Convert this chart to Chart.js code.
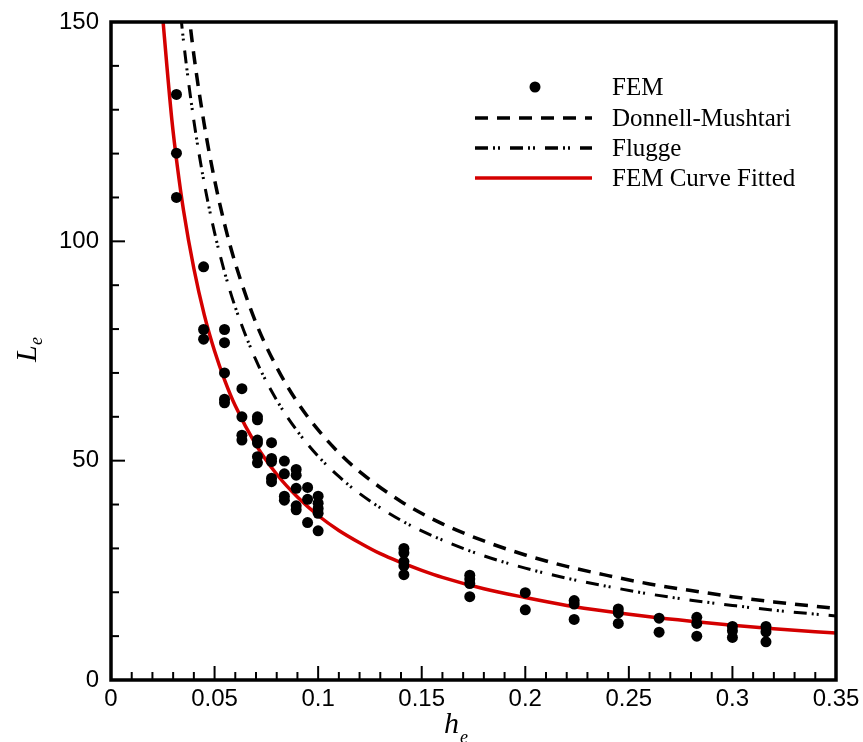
<!DOCTYPE html>
<html>
<head>
<meta charset="utf-8">
<script src="https://cdn.jsdelivr.net/npm/chart.js@4.4.1/dist/chart.umd.min.js"></script>
<style>
  body { margin: 0; background: #fff; }
  #wrap { width: 863px; height: 742px; }
</style>
</head>
<body>
<div id="wrap"><canvas id="chart" width="863" height="742"></canvas></div>
<script>
// FEM results (h_e, L_e)
var femH = [
  0.0316, 0.0316, 0.0316,
  0.0447, 0.0447, 0.0447,
  0.0548, 0.0548, 0.0548, 0.0548, 0.0548,
  0.0632, 0.0632, 0.0632, 0.0632,
  0.0707, 0.0707, 0.0707, 0.0707, 0.0707, 0.0707,
  0.0775, 0.0775, 0.0775, 0.0775, 0.0775,
  0.0837, 0.0837, 0.0837, 0.0837,
  0.0894, 0.0894, 0.0894, 0.0894, 0.0894,
  0.0949, 0.0949, 0.0949,
  0.1, 0.1, 0.1, 0.1, 0.1,
  0.1414, 0.1414, 0.1414, 0.1414, 0.1414,
  0.1732, 0.1732, 0.1732, 0.1732,
  0.2, 0.2,
  0.2236, 0.2236, 0.2236,
  0.2449, 0.2449, 0.2449,
  0.2646, 0.2646,
  0.2828, 0.2828, 0.2828,
  0.3, 0.3, 0.3,
  0.3162, 0.3162, 0.3162
];
var femL = [
  133.5, 120.1, 110,
  94.2, 79.9, 77.7,
  79.9, 76.9, 70.0, 64.0, 63.2,
  66.4, 60.0, 55.8, 54.7,
  60.0, 59.3, 54.7, 54.0, 50.9, 49.5,
  54.1, 50.5, 49.8, 46.0, 45.2,
  49.9, 47.0, 41.9, 41.0,
  48.0, 46.7, 43.7, 39.7, 38.8,
  43.9, 41.2, 35.9,
  41.9, 40.3, 39.1, 38.0, 34.0,
  30.0, 29.0, 27.0, 26.0, 24.0,
  23.9, 23.0, 22.0, 19.0,
  19.9, 16.0,
  18.1, 17.3, 13.8,
  16.2, 15.3, 12.9,
  14.1, 10.9,
  14.3, 12.9, 10.0,
  12.2, 11.2, 9.7,
  12.2, 11.0, 8.7
];

// Donnell-Mushtari theory
var dmH = [0.036, 0.04, 0.045, 0.05, 0.055, 0.06, 0.07, 0.08, 0.09, 0.1, 0.11, 0.12, 0.14, 0.16, 0.18, 0.2, 0.22, 0.24, 0.26, 0.28, 0.3, 0.32, 0.35];
var dmL = [158.3, 142.5, 126.7, 114.0, 103.6, 95.0, 81.4, 71.3, 63.3, 57.0, 51.8, 47.5, 40.7, 35.6, 31.7, 28.5, 25.9, 23.8, 21.9, 20.4, 19.0, 17.8, 16.3];

// Flugge theory
var flH = [0.032, 0.035, 0.04, 0.045, 0.05, 0.055, 0.06, 0.07, 0.08, 0.09, 0.1, 0.11, 0.12, 0.14, 0.16, 0.18, 0.2, 0.22, 0.24, 0.26, 0.28, 0.3, 0.32, 0.35];
var flL = [159.4, 145.7, 127.5, 113.3, 102.0, 92.7, 85.0, 72.9, 63.8, 56.7, 51.0, 46.4, 42.5, 36.4, 31.9, 28.3, 25.5, 23.2, 21.3, 19.6, 18.2, 17.0, 15.9, 14.6];

// curve fitted to the FEM points
var fitH = [0.024, 0.0294, 0.032, 0.035, 0.04, 0.045, 0.05, 0.055, 0.06, 0.07, 0.08, 0.09, 0.1, 0.11, 0.12, 0.13, 0.14, 0.15, 0.16, 0.18, 0.2, 0.22, 0.24, 0.26, 0.28, 0.3, 0.32, 0.35];
var fitL = [156.3, 127.6, 117.2, 107.1, 93.8, 83.3, 75.0, 68.2, 62.5, 53.6, 46.9, 41.7, 37.5, 34.1, 31.3, 28.8, 26.8, 25.0, 23.4, 20.8, 18.8, 17.0, 15.6, 14.4, 13.4, 12.5, 11.7, 10.7];

var xTicks = [0, 0.05, 0.1, 0.15, 0.2, 0.25, 0.3, 0.35];
var xTickLabels = ['0', '0.05', '0.1', '0.15', '0.2', '0.25', '0.3', '0.35'];
var yTicks = [0, 50, 100, 150];
var yTickLabels = ['0', '50', '100', '150'];

var seriesNames = ['FEM', 'Donnell-Mushtari', 'Flugge', 'FEM Curve Fitted'];

function pts(xs, ys) {
  return xs.map(function (x, i) { return { x: x, y: ys[i] }; });
}

var RED = '#d40000';
var DM_DASH = [13, 9];
var FL_DASH = [13, 5, 2, 3, 2, 10];

// frame, inward ticks, axis titles and legend
var decor = {
  id: 'decor',
  afterDatasetsDraw: function (chart) {
    var ctx = chart.ctx, a = chart.chartArea;
    var xs = chart.scales.x, ys = chart.scales.y;
    ctx.save();
    ctx.strokeStyle = '#000';
    ctx.lineWidth = 2;
    var v, p;
    for (v = 0; v <= 35; v++) {
      p = xs.getPixelForValue(v / 100);
      var len = (v % 5 === 0) ? 14 : 8;
      ctx.beginPath(); ctx.moveTo(p, a.bottom); ctx.lineTo(p, a.bottom - len); ctx.stroke();
    }
    for (v = 0; v <= 150; v += 10) {
      p = ys.getPixelForValue(v);
      var len2 = (v % 50 === 0) ? 14 : 8;
      ctx.beginPath(); ctx.moveTo(a.left, p); ctx.lineTo(a.left + len2, p); ctx.stroke();
    }
    ctx.lineWidth = 3.5;
    ctx.strokeRect(a.left, a.top, a.right - a.left, a.bottom - a.top);

    // axis titles
    ctx.fillStyle = '#000';
    ctx.textBaseline = 'alphabetic';
    ctx.font = 'italic 30px "Liberation Serif"';
    ctx.fillText('h', 444, 733);
    ctx.font = 'italic 18px "Liberation Serif"';
    ctx.fillText('e', 460, 743);
    ctx.save();
    ctx.translate(36, 362);
    ctx.rotate(-Math.PI / 2);
    ctx.font = 'italic 30px "Liberation Serif"';
    ctx.fillText('L', 0, 0);
    ctx.font = 'italic 18px "Liberation Serif"';
    ctx.fillText('e', 17, 6);
    ctx.restore();

    // legend
    var rows = [87, 118, 148, 178];
    ctx.font = '25px "Liberation Serif"';
    ctx.textBaseline = 'middle';
    ctx.beginPath(); ctx.arc(535, rows[0], 5.5, 0, Math.PI * 2); ctx.fill();
    ctx.lineWidth = 3.5;
    ctx.setLineDash(DM_DASH);
    ctx.beginPath(); ctx.moveTo(475, rows[1]); ctx.lineTo(592, rows[1]); ctx.stroke();
    ctx.setLineDash(FL_DASH);
    ctx.beginPath(); ctx.moveTo(475, rows[2]); ctx.lineTo(592, rows[2]); ctx.stroke();
    ctx.setLineDash([]);
    ctx.strokeStyle = RED;
    ctx.beginPath(); ctx.moveTo(475, rows[3]); ctx.lineTo(592, rows[3]); ctx.stroke();
    for (var i = 0; i < seriesNames.length; i++) {
      ctx.fillText(seriesNames[i], 612, rows[i] + 1);
    }
    ctx.restore();
  }
};

new Chart(document.getElementById('chart'), {
  type: 'scatter',
  data: {
    datasets: [
      {
        label: seriesNames[0],
        data: pts(femH, femL),
        pointRadius: 5.5,
        pointBackgroundColor: '#000',
        pointBorderWidth: 0,
        showLine: false
      },
      {
        label: seriesNames[1],
        data: pts(dmH, dmL),
        showLine: true,
        cubicInterpolationMode: 'monotone',
        borderColor: '#000',
        borderWidth: 3.5,
        borderDash: DM_DASH,
        pointRadius: 0
      },
      {
        label: seriesNames[2],
        data: pts(flH, flL),
        showLine: true,
        cubicInterpolationMode: 'monotone',
        borderColor: '#000',
        borderWidth: 3,
        borderDash: FL_DASH,
        pointRadius: 0
      },
      {
        label: seriesNames[3],
        data: pts(fitH, fitL),
        showLine: true,
        cubicInterpolationMode: 'monotone',
        borderColor: RED,
        borderWidth: 3.5,
        pointRadius: 0
      }
    ]
  },
  options: {
    responsive: false,
    animation: false,
    layout: { padding: { top: 22, right: 27, left: 0, bottom: 0 } },
    plugins: { legend: { display: false }, tooltip: { enabled: false } },
    scales: {
      x: {
        type: 'linear',
        min: 0, max: 0.35,
        grid: { display: false, drawTicks: false },
        border: { display: false },
        afterBuildTicks: function (s) { s.ticks = xTicks.map(function (v) { return { value: v }; }); },
        afterFit: function (s) { s.height = 62; s.paddingLeft = 0; s.paddingRight = 0; },
        ticks: {
          color: '#000',
          padding: 5,
          maxRotation: 0,
          font: { family: '"Liberation Sans"', size: 24 },
          callback: function (v) { return xTickLabels[xTicks.indexOf(v)]; }
        }
      },
      y: {
        type: 'linear',
        min: 0, max: 150,
        grid: { display: false, drawTicks: false },
        border: { display: false },
        afterBuildTicks: function (s) { s.ticks = yTicks.map(function (v) { return { value: v }; }); },
        afterFit: function (s) { s.width = 111; s.paddingTop = 0; s.paddingBottom = 0; },
        ticks: {
          color: '#000',
          padding: 12,
          font: { family: '"Liberation Sans"', size: 24 },
          callback: function (v) { return yTickLabels[yTicks.indexOf(v)]; }
        }
      }
    }
  },
  plugins: [decor]
});
</script>
</body>
</html>
